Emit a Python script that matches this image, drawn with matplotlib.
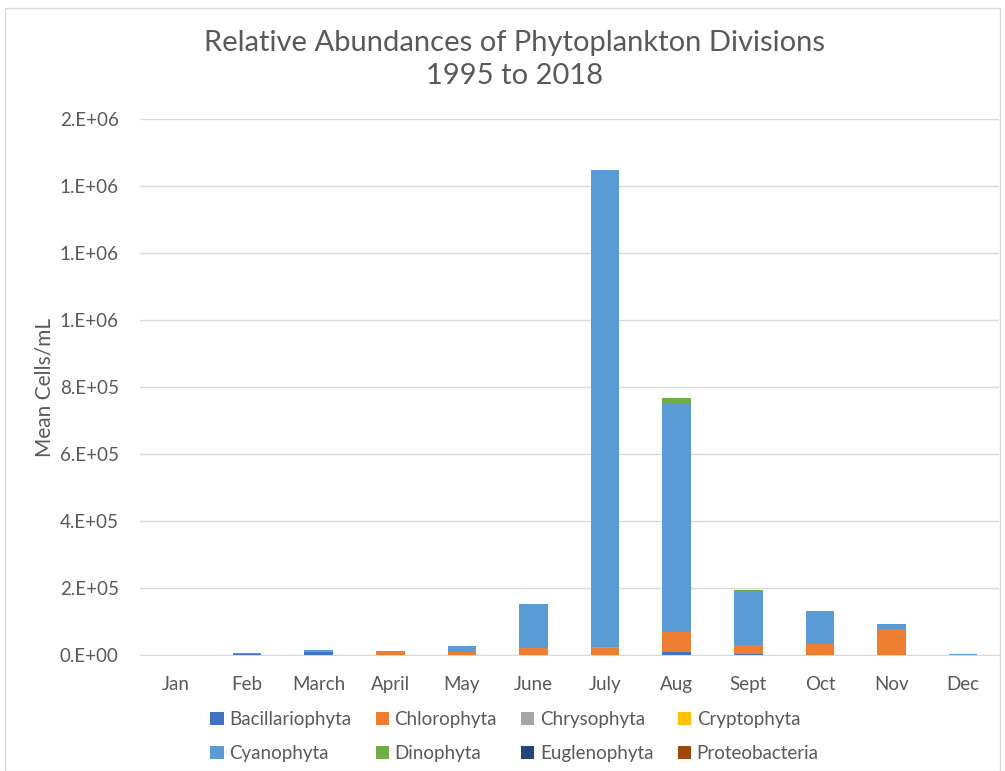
import matplotlib
matplotlib.use("Agg")
import numpy as np
import matplotlib.pyplot as plt
from matplotlib.ticker import FuncFormatter
from matplotlib.patches import Rectangle, Patch

plt.rcParams['font.family'] = ['Lato', 'DejaVu Sans']

months = ['Jan', 'Feb', 'March', 'April', 'May', 'June', 'July', 'Aug',
          'Sept', 'Oct', 'Nov', 'Dec']

# mean cells/mL per division
bacillariophyta = [300, 2000, 8000, 1000, 1000, 1000, 1000, 8000, 4000, 1000, 1000, 500]
chlorophyta = [300, 500, 3000, 11000, 8000, 21000, 21000, 60000, 25000, 31000, 77000, 500]
chrysophyta = [100, 500, 500, 0, 0, 0, 1000, 0, 0, 0, 0, 200]
cryptophyta = [100, 0, 500, 0, 0, 0, 0, 0, 0, 0, 0, 100]
cyanophyta = [200, 1500, 1500, 0, 19000, 131000, 1425000, 682000, 160000, 99000, 13000, 300]
dinophyta = [0, 0, 0, 0, 0, 0, 0, 17000, 6000, 0, 0, 0]
euglenophyta = [0, 0, 0, 0, 0, 0, 0, 0, 0, 0, 0, 0]
proteobacteria = [0, 0, 500, 1000, 0, 0, 0, 0, 0, 0, 0, 0]

series = [
    ('Bacillariophyta', bacillariophyta, '#4472C4'),
    ('Chlorophyta', chlorophyta, '#ED7D31'),
    ('Chrysophyta', chrysophyta, '#A5A5A5'),
    ('Cryptophyta', cryptophyta, '#FFC000'),
    ('Cyanophyta', cyanophyta, '#5B9BD5'),
    ('Dinophyta', dinophyta, '#70AD47'),
    ('Euglenophyta', euglenophyta, '#264478'),
    ('Proteobacteria', proteobacteria, '#9E480E'),
]

txt = '#595959'

fig = plt.figure(figsize=(10.05, 7.71), dpi=100)
ax = fig.add_axes([0.139, 0.1505, 0.855, 0.6952])

x = np.arange(len(months))
bottom = np.zeros(len(months))
handles = {}
for name, vals, col in series:
    vals = np.array(vals, dtype=float)
    ax.bar(x, vals, 0.4, bottom=bottom, color=col, zorder=3)
    bottom += vals
    handles[name] = Patch(facecolor=col, label=name)

ax.set_xlim(-0.5, len(months) - 0.5)
ax.set_ylim(0, 1.6e6)
ax.set_yticks(np.arange(0, 1.6e6 + 1, 2e5))
ax.yaxis.set_major_formatter(FuncFormatter(lambda v, p: '{:#.0E}'.format(v)))
ax.set_xticks(x)
ax.set_xticklabels(months)
ax.tick_params(length=0, labelsize=13.5, labelcolor=txt)
ax.tick_params(axis='x', pad=15)
ax.tick_params(axis='y', pad=15)
ax.grid(axis='y', color='#D9D9D9', linewidth=1, zorder=0)
for s in ['top', 'right', 'left']:
    ax.spines[s].set_visible(False)
ax.spines['bottom'].set_color('#D9D9D9')
ax.set_ylabel('Mean Cells/mL', fontsize=15, color=txt, labelpad=4)

fig.text(0.512, 0.9445, 'Relative Abundances of Phytoplankton Divisions',
         ha='center', va='center', fontsize=21, color=txt)
fig.text(0.512, 0.9015, '1995 to 2018', ha='center', va='center',
         fontsize=21, color=txt)

order = ['Bacillariophyta', 'Cyanophyta', 'Chlorophyta', 'Dinophyta',
         'Chrysophyta', 'Euglenophyta', 'Cryptophyta', 'Proteobacteria']
leg = fig.legend([handles[n] for n in order], order, ncol=4,
                 loc='center', bbox_to_anchor=(0.512, 0.045), frameon=False,
                 fontsize=13.5, handlelength=0.7, handleheight=0.7,
                 handletextpad=0.3, columnspacing=1.3, labelspacing=0.9)
for t in leg.get_texts():
    t.set_color(txt)

# chart area border
fig.patches.append(Rectangle((0.005, 0.0), 0.99, 0.99, transform=fig.transFigure,
                             fill=False, edgecolor='#D9D9D9', linewidth=1))

fig.savefig('out.png', dpi=100)
